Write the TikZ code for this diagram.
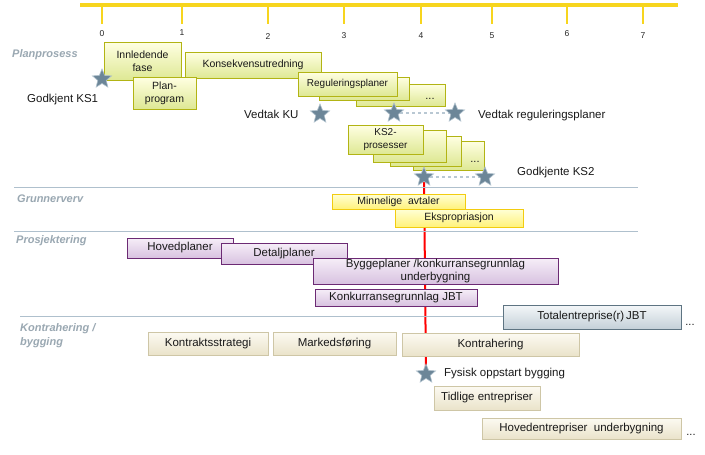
\documentclass[tikz,border=0pt]{standalone}
\usepackage{fontspec}
\setmainfont{Liberation Sans}
\usetikzlibrary{shapes.geometric,shadows}
\definecolor{tlyellow}{HTML}{F7D51E}
\definecolor{sepline}{HTML}{AFC0CD}
\definecolor{plantop}{HTML}{FFFFE2}
\definecolor{planbot}{HTML}{DEE894}
\definecolor{planborder}{HTML}{B2B414}
\definecolor{grtop}{HTML}{FFFFD6}
\definecolor{grbot}{HTML}{FFF27A}
\definecolor{grborder}{HTML}{F2CC10}
\definecolor{putop}{HTML}{F6EEF8}
\definecolor{pubot}{HTML}{D8C2E0}
\definecolor{puborder}{HTML}{6C2A74}
\definecolor{gytop}{HTML}{F4F7F9}
\definecolor{gybot}{HTML}{C4D0D8}
\definecolor{gyborder}{HTML}{5E7482}
\definecolor{betop}{HTML}{FCFAF2}
\definecolor{bebot}{HTML}{EAE3CA}
\definecolor{beborder}{HTML}{CEC6A6}
\definecolor{starfill}{HTML}{6C8698}
\definecolor{staredge}{HTML}{AFC0CC}
\definecolor{secgray}{HTML}{9AA8B2}
\definecolor{dashgray}{HTML}{B9C8D3}
\pgfdeclarelayer{bg}
\pgfsetlayers{bg,main}
\tikzset{
  base/.style={draw, rectangle, inner sep=0pt, align=center, text=black!90,
    line width=0.9pt, drop shadow={opacity=0.22, shadow xshift=1.4pt, shadow yshift=-1.4pt}},
  planbox/.style={base, draw=planborder, top color=plantop, bottom color=planbot,
    font=\fontsize{10.5}{13}\selectfont},
  plansmall/.style={planbox, font=\fontsize{10}{12.5}\selectfont},
  grbox/.style={base, draw=grborder, top color=grtop, bottom color=grbot,
    font=\fontsize{10.5}{13}\selectfont},
  pubox/.style={base, draw=puborder, top color=putop, bottom color=pubot,
    font=\fontsize{11.5}{13}\selectfont},
  gybox/.style={base, draw=gyborder, top color=gytop, bottom color=gybot,
    font=\fontsize{11.5}{13}\selectfont},
  bebox/.style={base, draw=beborder, top color=betop, bottom color=bebot,
    font=\fontsize{11.5}{13}\selectfont},
  starshape/.style={star, star points=5, star point ratio=2.25, minimum size=20pt,
    inner sep=0pt, fill=starfill, draw=staredge, line width=0.6pt},
  lbl/.style={anchor=west, inner sep=0pt, font=\fontsize{11.5}{13}\selectfont, text=black!90},
  sec/.style={anchor=west, inner sep=0pt, align=left, text=secgray,
    font=\fontsize{11}{14}\selectfont\bfseries\itshape},
  ticklbl/.style={inner sep=0pt, font=\fontsize{8.5}{10}\selectfont, text=black!85},
  dots/.style={inner sep=0pt, font=\fontsize{11}{12}\selectfont, text=black!90},
  tl/.style={draw=tlyellow, line width=3.5pt},
  tick/.style={draw=tlyellow, line width=2.8pt},
  sep/.style={draw=sepline, line width=1pt},
  dashc/.style={draw=dashgray, line width=1.2pt, dashed},
  redc/.style={draw=red, line width=2pt}
}
\newcommand\bx[7]{\node[#2, minimum width={#5pt-#3pt}, minimum height={#6pt-#4pt}] (#1) at ({(#3+#5)/2},{(#4+#6)/2}) {#7};}
\newcommand\st[3]{\node[starshape] (#1) at (#2,#3) {};}
\begin{document}
\begin{tikzpicture}[x=1pt,y=-1pt]
\useasboundingbox (0,0) rectangle (705,455);

% timeline
\coordinate (tlA) at (80,5);
\coordinate (tlB) at (678,5);
\draw[tl] (tlA) -- (tlB);
\foreach \n/\x/\l in {0/102/34,1/182/33,2/268/36.5,3/344/36,4/421/36,5/492/36,6/567/34,7/643/36}{
  \coordinate (tk\n a) at (\x,5);
  \coordinate (tk\n b) at (\x,24);
  \draw[tick] (tk\n a) -- (tk\n b);
  \node[ticklbl] (tl\n) at (\x,\l) {\n};
}

% separators
\coordinate (s1a) at (14,187); \coordinate (s1b) at (638,187);
\coordinate (s2a) at (14,231); \coordinate (s2b) at (638,231);
\coordinate (s3a) at (20,316); \coordinate (s3b) at (638,316);
\draw[sep] (s1a) -- (s1b);
\draw[sep] (s2a) -- (s2b);
\draw[sep] (s3a) -- (s3b);

% section labels
\node[sec] (secP) at (12,55) {Planprosess};
\node[sec] (secG) at (17,199) {Grunnerverv};
\node[sec] (secPr) at (16,241) {Prosjektering};
\node[sec] (secK) at (20,336) {Kontrahering /\\bygging};

% Planprosess boxes
\bx{inn}{planbox}{104}{42}{181}{80}{Innledende\\fase}
\bx{kons}{planbox}{185}{52}{321}{78}{Konsekvensutredning}
\bx{plan}{planbox}{133}{77}{196}{109}{Plan-\\program}
\bx{reg3}{planbox}{356}{84}{445}{106}{}
\bx{reg2}{planbox}{319}{77}{409}{100}{}
\bx{reg1}{plansmall}{298}{72}{397}{96}{Reguleringsplaner}
\node[dots] (dreg) at (430,99) {...};
\bx{ks4}{planbox}{413}{141}{484}{170}{}
\bx{ks3}{planbox}{390}{136}{461}{166}{}
\bx{ks2}{planbox}{373}{130}{446}{162}{}
\bx{ks1}{plansmall}{348}{125}{423}{154}{KS2-\\prosesser}
\node[dots] (dks) at (475,162) {...};

% Grunnerverv
\bx{minn}{grbox}{332}{194}{465}{209}{Minnelige\ \ avtaler}
\bx{eksp}{grbox}{395}{209}{523}{227}{Ekspropriasjon}

% Prosjektering
\bx{hov}{pubox}{127}{238}{233}{258}{Hovedplaner}
\bx{det}{pubox}{221}{243}{347}{264}{Detaljplaner}
\bx{bygg}{pubox}{313}{258}{558}{284}{Byggeplaner /konkurransegrunnlag\\underbygning}
\bx{konk}{pubox}{315}{289}{477}{306}{Konkurransegrunnlag JBT}
\bx{total}{gybox}{503}{305}{681}{329}{Totalentreprise(r)\,JBT}
\node[dots] (dtot) at (690,325) {...};

% Kontrahering / bygging
\bx{kstrat}{bebox}{148}{332}{268}{355}{Kontraktsstrategi}
\bx{mark}{bebox}{273}{332}{396}{355}{Markedsføring}
\bx{kontr}{bebox}{402}{333}{579}{356}{Kontrahering}
\bx{tidl}{bebox}{434}{386}{540}{410}{Tidlige entrepriser}
\bx{hoved}{bebox}{482}{418}{681}{439}{Hovedentrepriser\ \ underbygning}
\node[dots] (dhov) at (691,435) {...};

% stars
\st{sKS1}{102}{79}
\st{sKU}{320}{114}
\st{sR1}{394}{113}
\st{sR2}{455}{113}
\st{sK1}{424}{177}
\st{sK2}{485}{177}
\st{sF}{426}{374}

% star labels
\node[lbl] (lKS1) at (27,100) {Godkjent KS1};
\node[lbl] (lKU) at (244,114) {Vedtak KU};
\node[lbl] (lR) at (478,116) {Vedtak reguleringsplaner};
\node[lbl] (lK) at (517,173) {Godkjente KS2};
\node[lbl] (lF) at (444,374) {Fysisk oppstart bygging};

% connectors behind everything
\begin{pgfonlayer}{bg}
\fill[white] (0,0) rectangle (705,455);
\draw[redc] (sK1.center) -- (sF.center);
\draw[dashc] (sR1.center) -- (sR2.center);
\draw[dashc] (sK1.center) -- (sK2.center);
\end{pgfonlayer}
\end{tikzpicture}
\end{document}
